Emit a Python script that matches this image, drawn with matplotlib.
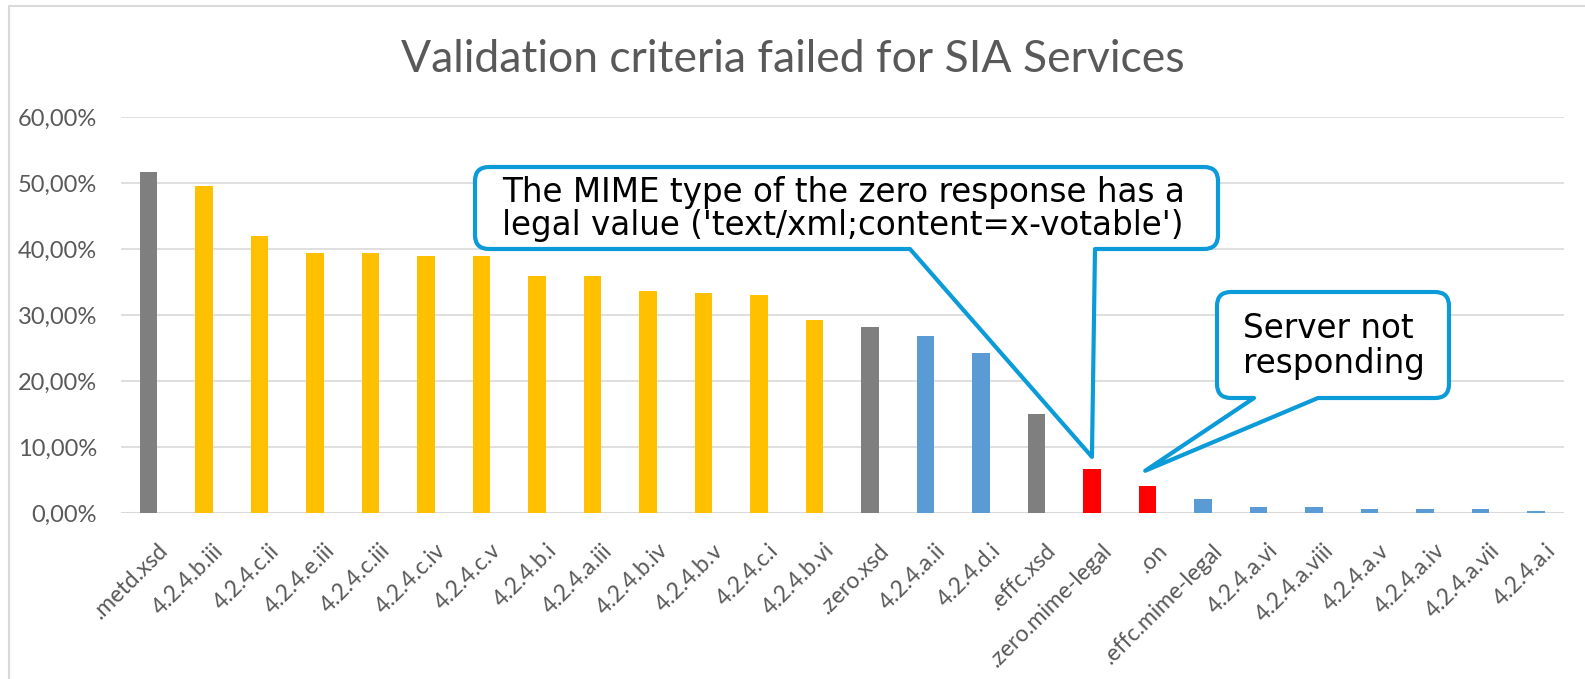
import matplotlib
matplotlib.use("Agg")
import matplotlib.pyplot as plt
import matplotlib.transforms as mtransforms
from matplotlib.path import Path
from matplotlib.patches import PathPatch
import numpy as np

# data
categories = [".metd.xsd", "4.2.4.b.iii", "4.2.4.c.ii", "4.2.4.e.iii", "4.2.4.c.iii",
              "4.2.4.c.iv", "4.2.4.c.v", "4.2.4.b.i", "4.2.4.a.iii", "4.2.4.b.iv",
              "4.2.4.b.v", "4.2.4.c.i", "4.2.4.b.vi", ".zero.xsd", "4.2.4.a.ii",
              "4.2.4.d.i", ".effc.xsd", ".zero.mime-legal", ".on", ".effc.mime-legal",
              "4.2.4.a.vi", "4.2.4.a.viii", "4.2.4.a.v", "4.2.4.a.iv", "4.2.4.a.vii",
              "4.2.4.a.i"]
failed_pct = [51.7, 49.5, 42.0, 39.4, 39.4, 39.0, 39.0, 35.9, 35.9, 33.6, 33.3, 33.0,
              29.3, 28.2, 26.8, 24.3, 15.0, 6.6, 4.1, 2.15, 0.85, 0.85, 0.65, 0.65,
              0.65, 0.25]
groups = ["xsd", "crit", "crit", "crit", "crit", "crit", "crit", "crit", "crit", "crit",
          "crit", "crit", "crit", "xsd", "other", "other", "xsd", "bad", "bad", "other",
          "other", "other", "other", "other", "other", "other"]
y_ticks = [0, 10, 20, 30, 40, 50, 60]
y_tick_labels = ["0,00%", "10,00%", "20,00%", "30,00%", "40,00%", "50,00%", "60,00%"]

title = "Validation criteria failed for SIA Services"
note_mime = "The MIME type of the zero response has a\nlegal value ('text/xml;content=x-votable')"
note_server = "Server not\nresponding"

group_colors = {"xsd": "#7F7F7F", "crit": "#FFC000", "other": "#5B9BD5", "bad": "#FF0000"}
grid_col = "#D9D9D9"
text_col = "#595959"
callout_col = "#0A9BD8"

W, H = 1585, 679
fig = plt.figure(figsize=(W / 100, H / 100), dpi=100)
ax = fig.add_axes([120.7 / W, 1 - 513 / H, (1563.7 - 120.7) / W, (513 - 117) / H])

x = np.arange(len(categories))
ax.bar(x, failed_pct, width=0.31, color=[group_colors[g] for g in groups], zorder=3)
ax.set_xlim(-0.5, len(categories) - 0.5)
ax.set_ylim(0, 60)
ax.set_yticks(y_ticks)
ax.set_yticklabels(y_tick_labels, fontfamily="Lato", fontsize=17, color=text_col)
ax.yaxis.grid(True, color=grid_col, lw=1.2, zorder=0)
ax.tick_params(length=0)
ax.tick_params(axis="y", pad=17)
for s in ax.spines.values():
    s.set_visible(False)
ax.axhline(0, color=grid_col, lw=1.5, zorder=2)

ax.set_xticks(x)
ax.set_xticklabels(categories, rotation=45, ha="right", va="top", rotation_mode="anchor",
                   fontfamily="Lato", fontsize=16.5, color=text_col)
shift = mtransforms.ScaledTranslation(9 / 100, -22 / 100, fig.dpi_scale_trans)
for lab in ax.get_xticklabels():
    lab.set_transform(lab.get_transform() + shift)

fig.text(0.5, 1 - 59 / H, title, ha="center", va="center", fontfamily="Lato",
         fontsize=32, color=text_col)

# overlay in pixel coordinates (y downwards) for the frame and callouts
ov = fig.add_axes([0, 0, 1, 1], zorder=5)
ov.set_xlim(0, W)
ov.set_ylim(H, 0)
ov.axis("off")
ov.patch.set_alpha(0)
ov.plot([9, 9, W], [H, 6, 6], color=grid_col, lw=1.5)


def to_px(xd, yd):
    px, py = ax.transData.transform((xd, yd))
    return ov.transData.inverted().transform((px, py))


def callout(x0, y0, x1, y1, base_l, base_r, tip, r=14):
    M, L, C = Path.MOVETO, Path.LINETO, Path.CURVE3
    verts = [(x0 + r, y0), (x1 - r, y0), (x1, y0), (x1, y0 + r), (x1, y1 - r),
             (x1, y1), (x1 - r, y1), (base_r, y1), tuple(tip), (base_l, y1),
             (x0 + r, y1), (x0, y1), (x0, y1 - r), (x0, y0 + r), (x0, y0),
             (x0 + r, y0), (x0 + r, y0)]
    codes = [M, L, C, C, L, C, C, L, L, L, L, C, C, L, C, C, Path.CLOSEPOLY]
    ov.add_patch(PathPatch(Path(verts, codes), facecolor="white", edgecolor=callout_col,
                           lw=3, joinstyle="round"))


tip1 = to_px(categories.index(".zero.mime-legal"), 8.5)
tip2 = to_px(categories.index(".on") - 0.04, 6.4)
callout(475, 167, 1218, 249, 910, 1095, tip1)
callout(1217, 292, 1449, 398, 1254, 1318, tip2)

ov.text(502, 209, note_mime, ha="left", va="center", fontsize=23.5, color="black",
        linespacing=1.0)
ov.text(1243, 346, note_server, ha="left", va="center", fontsize=23.5, color="black",
        linespacing=1.05)

fig.savefig("out.png", dpi=100)
